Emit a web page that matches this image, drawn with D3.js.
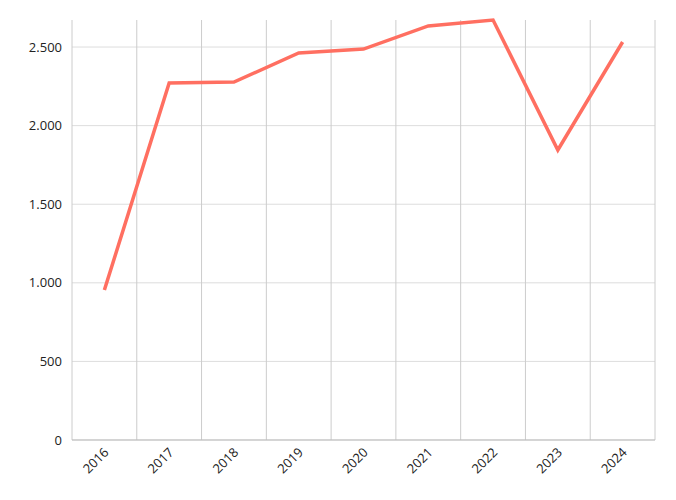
<!DOCTYPE html>
<html>
<head>
<meta charset="utf-8">
<script src="https://cdn.jsdelivr.net/npm/d3@7"></script>
<style>
  body { margin: 0; background: #fff; }
  text { font-family: "Open Sans", "Noto Sans", sans-serif; fill: #222; }
</style>
</head>
<body>
<div id="chart"></div>
<script>
    // Data
    const years = ["2016", "2017", "2018", "2019", "2020", "2021", "2022", "2023", "2024"];
    const values = [954, 2271, 2277, 2462, 2487, 2634, 2672, 1845, 2532];
    const yTicks = [0, 500, 1000, 1500, 2000, 2500];

    const width = 676;
    const height = 500;
    const margin = {top: 20, right: 21, bottom: 60, left: 72};

    var svg = d3.select("#chart")
        .append("svg")
        .attr("width", width)
        .attr("height", height);

    const x = d3.scaleBand()
        .domain(years)
        .range([margin.left, width - margin.right]);

    const y = d3.scaleLinear()
        .domain([0, d3.max(values)])
        .range([height - margin.bottom, margin.top]);

    const fmt = v => d3.format(",")(v).replace(/,/g, ".");

    // horizontal grid
    svg.append("g")
        .selectAll("line")
        .data(yTicks)
        .enter()
        .append("line")
        .attr("x1", margin.left)
        .attr("x2", width - margin.right)
        .attr("y1", d => y(d))
        .attr("y2", d => y(d))
        .attr("stroke", "#ddd");

    // vertical grid at band edges
    svg.append("g")
        .selectAll("line")
        .data(years)
        .enter()
        .append("line")
        .attr("x1", d => x(d))
        .attr("x2", d => x(d))
        .attr("y1", margin.top)
        .attr("y2", height - margin.bottom)
        .attr("stroke", "#ccc");

    svg.append("line")
        .attr("x1", width - margin.right)
        .attr("x2", width - margin.right)
        .attr("y1", margin.top)
        .attr("y2", height - margin.bottom)
        .attr("stroke", "#ccc");

    // bottom axis line
    svg.append("line")
        .attr("x1", margin.left)
        .attr("x2", width - margin.right)
        .attr("y1", y(0))
        .attr("y2", y(0))
        .attr("stroke", "#bbb");

    // y labels
    svg.append("g")
        .selectAll("text")
        .data(yTicks)
        .enter()
        .append("text")
        .attr("x", margin.left - 10)
        .attr("y", d => y(d))
        .attr("dy", "0.35em")
        .attr("text-anchor", "end")
        .attr("font-size", 13)
        .text(d => fmt(d));

    // x labels, rotated
    svg.append("g")
        .selectAll("text")
        .data(years)
        .enter()
        .append("text")
        .attr("transform", d => "translate(" + (x(d) + x.bandwidth() / 2 + 2) + "," + (y(0) + 10) + ") rotate(-45)")
        .attr("text-anchor", "end")
        .attr("dy", "0.35em")
        .attr("font-size", 13)
        .text(d => d);

    // line
    const line = d3.line()
        .x((d, i) => x(years[i]) + x.bandwidth() / 2)
        .y(d => y(d));

    svg.append("path")
        .datum(values)
        .attr("d", line)
        .attr("fill", "none")
        .attr("stroke", "#ff6f61")
        .attr("stroke-width", 3.5)
        .attr("stroke-linejoin", "miter");
</script>
</body>
</html>
